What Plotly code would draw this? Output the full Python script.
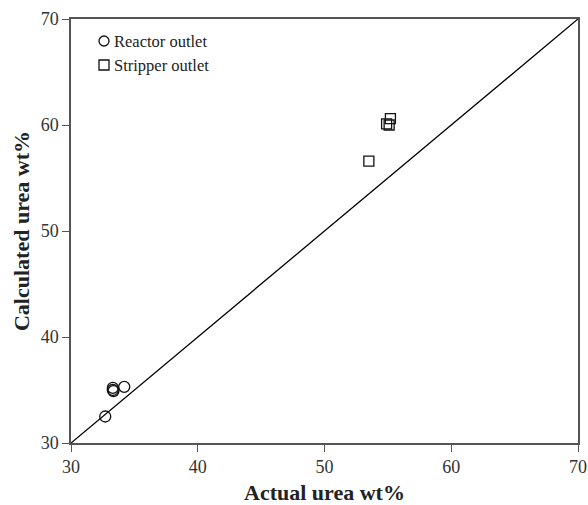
import plotly.graph_objects as go

reactor_actual = [32.7, 33.3, 33.3, 33.35, 34.2]
reactor_calc = [32.5, 35.0, 35.2, 34.9, 35.3]
stripper_actual = [53.5, 54.9, 55.1, 55.2]
stripper_calc = [56.6, 60.1, 60.0, 60.6]
diag = [30, 70]
ticks = [30, 40, 50, 60, 70]
series_names = ["Reactor outlet", "Stripper outlet"]

FONT = "Liberation Serif, Times New Roman, serif"
L, R, T, B = 71, 10, 19, 62
W, H = 588, 505
PW, PH = W - L - R, H - T - B

fig = go.Figure()
fig.add_trace(go.Scatter(x=diag, y=diag, mode="lines", line=dict(color="black", width=1.3),
                         showlegend=False, hoverinfo="skip"))
fig.add_trace(go.Scatter(x=reactor_actual, y=reactor_calc, mode="markers", name=series_names[0],
                         showlegend=False,
                         marker=dict(symbol="circle-open", size=11, color="#111", line=dict(width=1.3))))
fig.add_trace(go.Scatter(x=stripper_actual, y=stripper_calc, mode="markers", name=series_names[1],
                         showlegend=False,
                         marker=dict(symbol="square-open", size=10, color="#111", line=dict(width=1.3))))

axis_common = dict(range=[30, 70], tickvals=ticks, ticks="outside", ticklen=7, tickcolor="#555",
                   showline=True, linecolor="#555", linewidth=1.5, mirror=True, showgrid=False,
                   zeroline=False,
                   tickfont=dict(family=FONT, size=18, color="#333"))

# legend drawn as symbol shapes + text annotations (pixel positions inside plot)
def px_x(p):
    return (p - L) / PW

def px_y(p):
    return 1 - (p - T) / PH

shapes = [
    dict(type="circle", xref="paper", yref="paper", xsizemode="pixel", ysizemode="pixel",
         xanchor=px_x(104), yanchor=px_y(41), x0=-5, x1=5, y0=-5, y1=5,
         line=dict(color="#111", width=1.3)),
    dict(type="rect", xref="paper", yref="paper", xsizemode="pixel", ysizemode="pixel",
         xanchor=px_x(104), yanchor=px_y(65), x0=-5, x1=5, y0=-5, y1=5,
         line=dict(color="#111", width=1.3)),
]
annotations = [
    dict(text=series_names[0], xref="paper", yref="paper", x=px_x(112), y=px_y(41),
         xanchor="left", yanchor="middle", showarrow=False,
         font=dict(family=FONT, size=16.5, color="#222")),
    dict(text=series_names[1], xref="paper", yref="paper", x=px_x(112), y=px_y(65),
         xanchor="left", yanchor="middle", showarrow=False,
         font=dict(family=FONT, size=16.5, color="#222")),
]

fig.update_layout(
    width=W, height=H,
    margin=dict(l=L, r=R, t=T, b=B),
    plot_bgcolor="white", paper_bgcolor="white",
    xaxis=dict(**axis_common, automargin=False,
               title=dict(text="<b>Actual urea wt%</b>",
                          font=dict(family=FONT, size=22, color="#222"))),
    yaxis=dict(**axis_common, automargin="left",
               title=dict(text="<b>Calculated urea wt%</b>", standoff=5,
                          font=dict(family=FONT, size=22, color="#222"))),
    shapes=shapes,
    annotations=annotations,
    showlegend=False,
)

fig.write_html("out.html")
